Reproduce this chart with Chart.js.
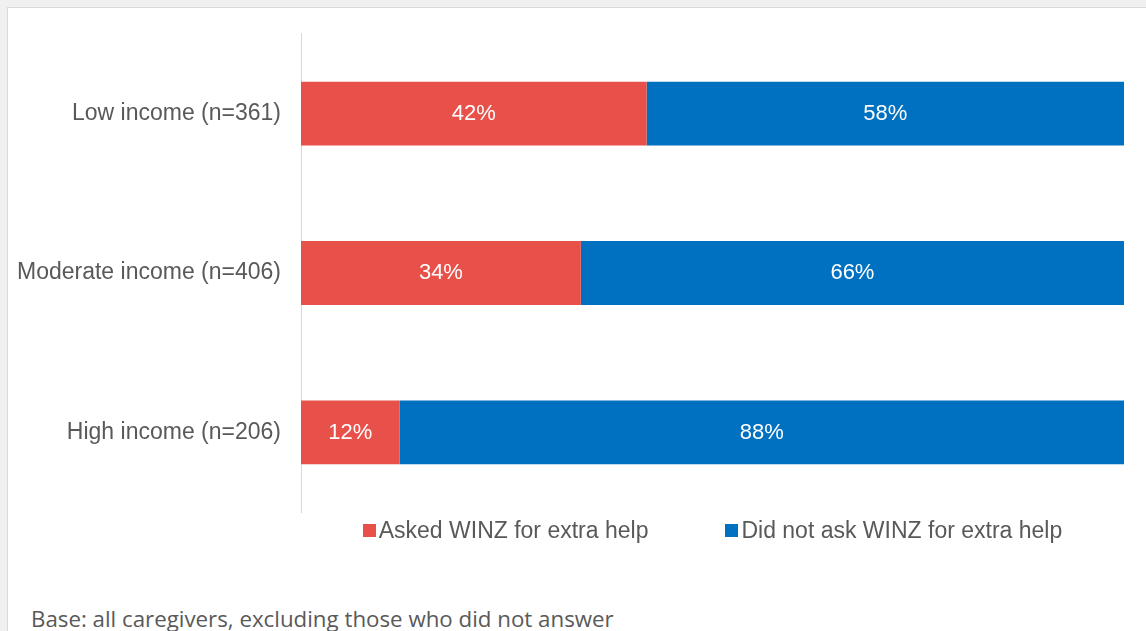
<!DOCTYPE html>
<html>
<head>
<meta charset="utf-8">
<script src="https://cdn.jsdelivr.net/npm/chart.js@4"></script>
<style>
  html, body { margin: 0; padding: 0; background: #f0f0f0; overflow: hidden; }
  #panel {
    position: absolute; left: 7px; top: 7px; width: 1160px; height: 640px;
    background: #fff; border: 1px solid #d9d9d9;
  }
  #wrap { position: absolute; left: 0; top: 0; width: 1146px; height: 546px; }
  #legend {
    position: absolute; left: 301px; top: 517px; width: 823px;
    display: flex; justify-content: center; gap: 77px;
    font-family: "Liberation Sans", Arial, sans-serif; font-size: 23px; color: #595959;
    white-space: nowrap;
  }
  #legend .item { display: flex; align-items: center; }
  #legend .box { width: 13px; height: 13px; margin-right: 3px; }
  #note {
    position: absolute; left: 31px; top: 603px;
    font-family: "Open Sans", sans-serif; font-size: 22.3px; color: #595959;
    white-space: nowrap;
  }
</style>
</head>
<body>
<div id="panel"></div>
<div id="wrap"><canvas id="winz-chart"></canvas></div>
<div id="legend"></div>
<div id="note">Base: all caregivers, excluding those who did not answer</div>
<script>
const categories = ["Low income (n=361)", "Moderate income (n=406)", "High income (n=206)"];
const askedHelp = [42, 34, 12];
const didNotAsk = [58, 66, 88];
const seriesNames = ["Asked WINZ for extra help", "Did not ask WINZ for extra help"];
const seriesColors = ["#e8504a", "#0070c0"];

const fontFamily = "'Liberation Sans', Arial, sans-serif";

// white percentage labels in the middle of each bar segment
const segmentLabels = {
  id: "segmentLabels",
  afterDatasetsDraw(chart) {
    const ctx = chart.ctx;
    ctx.save();
    ctx.font = "22px " + fontFamily;
    ctx.fillStyle = "#ffffff";
    ctx.textAlign = "center";
    ctx.textBaseline = "middle";
    chart.data.datasets.forEach((ds, i) => {
      chart.getDatasetMeta(i).data.forEach((bar, j) => {
        const p = bar.getCenterPoint();
        ctx.fillText(ds.data[j] + "%", p.x, p.y);
      });
    });
    ctx.restore();
  },
};

const chart = new Chart(document.getElementById("winz-chart"), {
  type: "bar",
  data: {
    labels: categories,
    datasets: [askedHelp, didNotAsk].map((values, i) => ({
      label: seriesNames[i],
      data: values,
      backgroundColor: seriesColors[i],
      categoryPercentage: 1,
      barPercentage: 0.4,
    })),
  },
  options: {
    indexAxis: "y",
    responsive: true,
    maintainAspectRatio: false,
    animation: false,
    layout: { padding: { left: 0, right: 22, top: 31, bottom: 7 } },
    scales: {
      x: { stacked: true, min: 0, max: 100, display: false },
      y: {
        stacked: true,
        grid: { display: false, drawTicks: false },
        border: { display: true, color: "#d9d9d9", width: 1 },
        ticks: { color: "#595959", font: { family: fontFamily, size: 23 }, padding: 20 },
        afterFit: (scale) => { scale.width = 301; },
      },
    },
    plugins: {
      tooltip: { enabled: false },
      legend: { display: false },
    },
  },
  plugins: [segmentLabels],
});

// legend under the plot
const legendEl = document.getElementById("legend");
chart.data.datasets.forEach((ds) => {
  const item = document.createElement("div");
  item.className = "item";
  const box = document.createElement("span");
  box.className = "box";
  box.style.background = ds.backgroundColor;
  item.appendChild(box);
  item.appendChild(document.createTextNode(ds.label));
  legendEl.appendChild(item);
});
</script>
</body>
</html>
